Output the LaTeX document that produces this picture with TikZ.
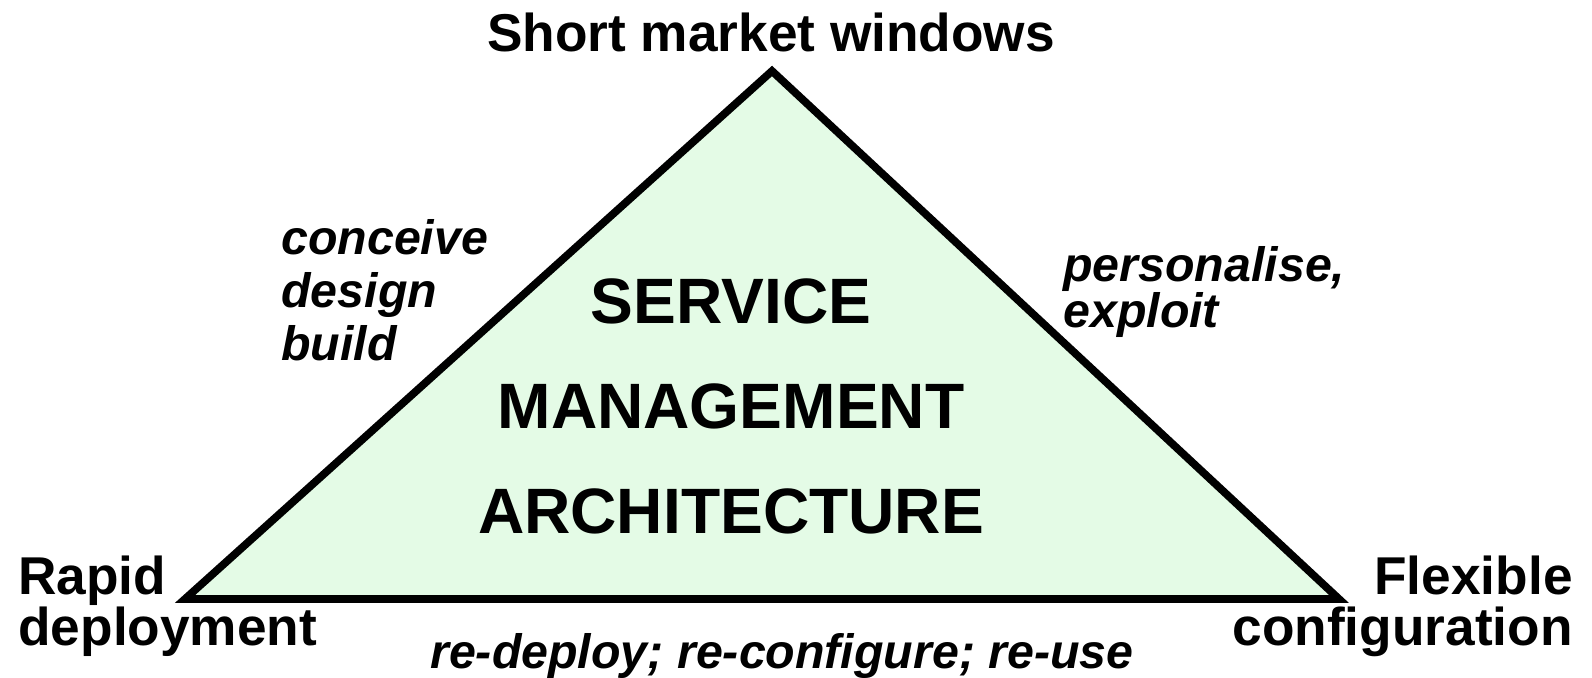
\documentclass[tikz,border=0pt]{standalone}
\usepackage{fontspec}
\setmainfont{Liberation Sans}
\usetikzlibrary{positioning}
\definecolor{palegreen}{RGB}{228,251,230}
\begin{document}
\begin{tikzpicture}[x=0.02cm,y=-0.02cm,
            corner/.style={inner sep=0pt,font=\bfseries\fontsize{30.3}{29}\selectfont},
            core/.style={inner sep=0pt,anchor=base,font=\bfseries\fontsize{36.5}{42}\selectfont},
            verb/.style={inner sep=0pt,align=left,font=\bfseries\itshape\fontsize{27.5}{30.4}\selectfont},
            tri/.style={draw=black,line width=0.155cm,line join=miter,fill=palegreen}]

            \useasboundingbox (0,0) rectangle (1592,678);

            \coordinate (p0) at (772,71);
            \coordinate (p1) at (1339,599);
            \coordinate (p2) at (185,599);
            \draw [tri] (p0) -- (p1) -- (p2) -- cycle;

            \node [corner,anchor=base] (w0) at (771,52) {Short market windows};
            \node [corner,anchor=base west,align=left] (r0) at (18,645) {Rapid\\deployment};
            \node [corner,anchor=base east,align=right] (f0) at (1573,645) {Flexible\\configuration};

            \node [core] (c1) at (731,324) {SERVICE};
            \node [core] (c2) at (731,429) {MANAGEMENT};
            \node [core] (c3) at (731,534) {ARCHITECTURE};

            \node [verb,anchor=base west] (v1) at (281,361) {conceive\\design\\build};
            \node [verb,anchor=base west,font=\bfseries\itshape\fontsize{27.5}{24}\selectfont] (v2) at (1063,328) {personalise,\\exploit};
            \node [verb,anchor=base] (v3) at (782,668) {re-deploy; re-configure; re-use};

        \end{tikzpicture}
\end{document}
